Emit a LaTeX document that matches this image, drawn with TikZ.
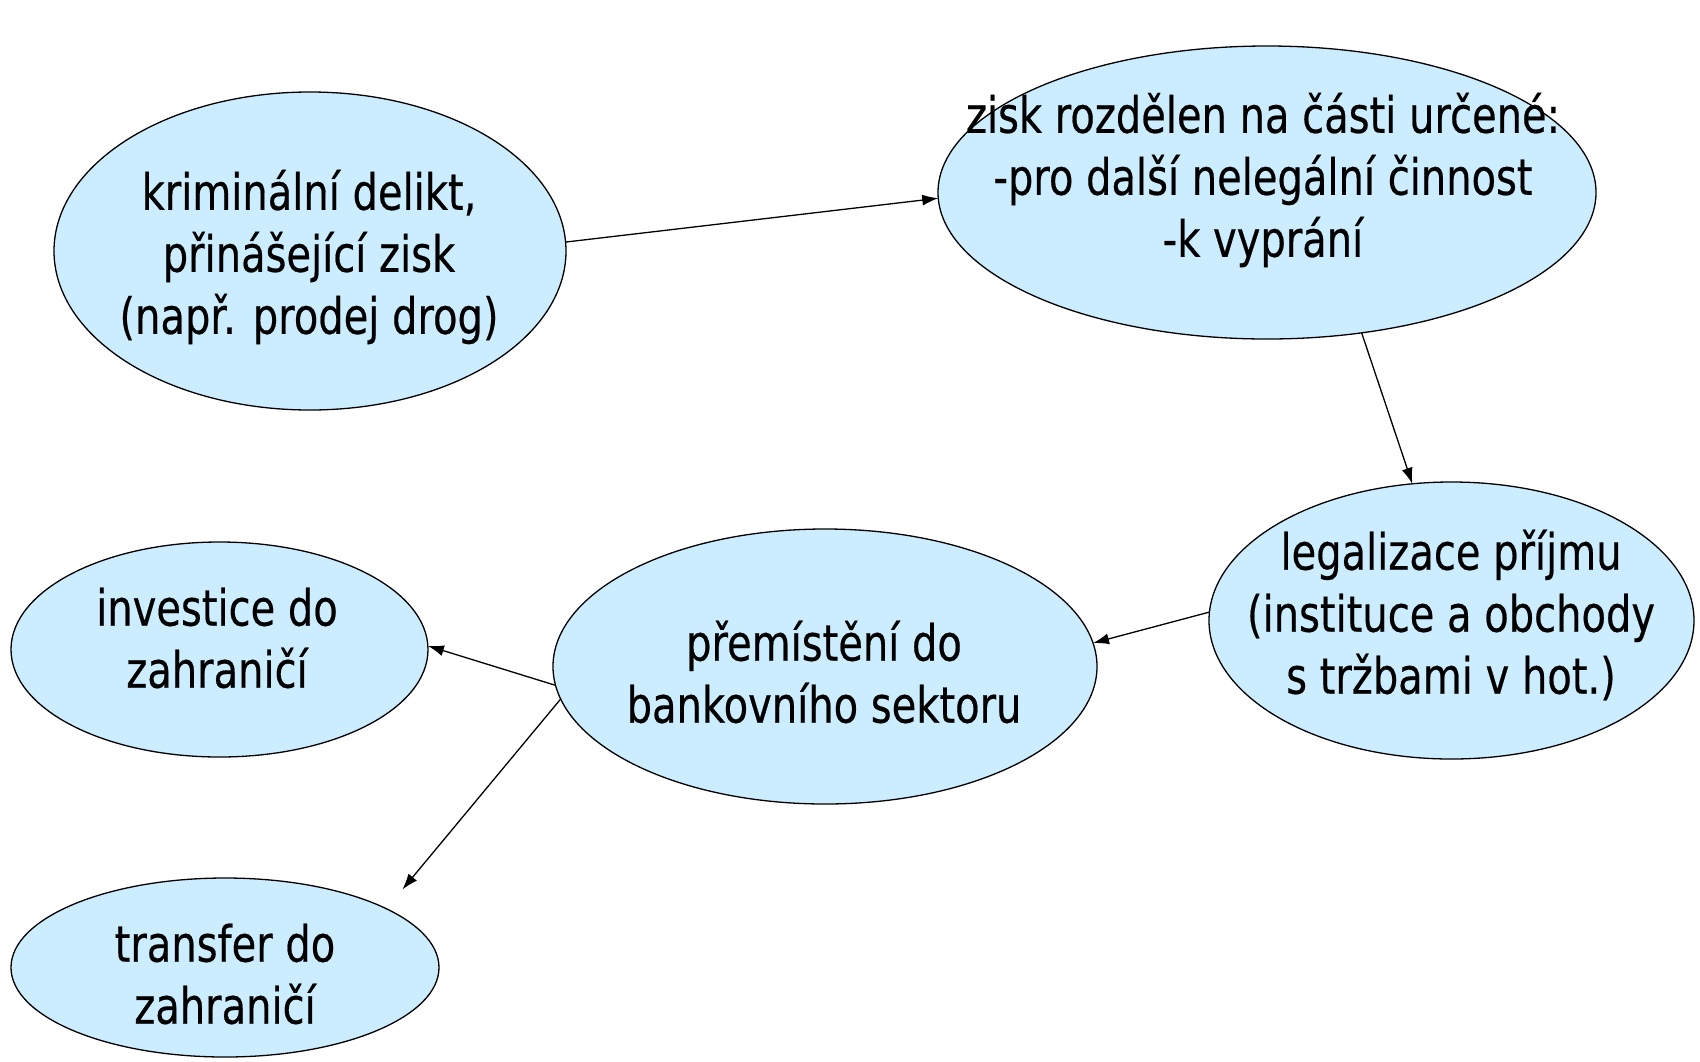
\documentclass[tikz,border=0pt]{standalone}
\usepackage{fontspec}
\newfontfamily\diafont[FakeStretch=0.8,FakeBold=0.4]{DejaVu Sans}
\usetikzlibrary{shapes.geometric,arrows.meta}
\definecolor{blobfill}{RGB}{204,236,255}
\tikzset{
  blob/.style={ellipse, draw=black, line width=1.3pt, fill=blobfill, inner sep=0pt, outer sep=0pt},
  txt/.style={align=center, inner sep=0pt, font=\diafont\fontsize{50}{62}\selectfont, text=black},
  conn/.style={line width=1.3pt, -{Latex[length=16pt,width=11pt]}}
}
\begin{document}
\begin{tikzpicture}[x=1pt,y=-1pt]
\useasboundingbox[fill=white] (0,0) rectangle (1700,1061);
\node[blob, minimum width=512pt, minimum height=318pt] (e1) at (310,251) {};
\node[blob, minimum width=658pt, minimum height=293pt] (e2) at (1267,192.5) {};
\node[blob, minimum width=485pt, minimum height=277pt] (e3) at (1451.5,620.5) {};
\node[blob, minimum width=544pt, minimum height=275pt] (e4) at (825,666.5) {};
\node[blob, minimum width=417pt, minimum height=215pt] (e5) at (219.5,649.5) {};
\node[blob, minimum width=428pt, minimum height=179pt] (e6) at (225,967.5) {};

\node[txt] (t1) at (309,257) {kriminální delikt,\\přinášející zisk\\(např. prodej drog)};
\node[txt] (t2) at (1263,180) {zisk rozdělen na části určené:\\-pro další nelegální činnost\\-k vyprání};
\node[txt] (t3) at (1451,615) {legalizace příjmu\\(instituce a obchody\\s tržbami v hot.)};
\node[txt] (t4) at (824,672) {přemístění do\\bankovního sektoru};
\node[txt] (t5) at (217,638) {investice do\\zahraničí};
\node[txt] (t6) at (225,974) {transfer do\\zahraničí};

\draw[conn] (e1.2) -- (e2.181);
\draw[conn] (e2.-56) -- (e3.106);
\draw[conn] (e3.178) -- (e4.5);
\draw[conn] (e4.184) -- (e5.1);
\draw[conn, shorten >=25pt] (e4.187) -- (e6.20);
\end{tikzpicture}
\end{document}
